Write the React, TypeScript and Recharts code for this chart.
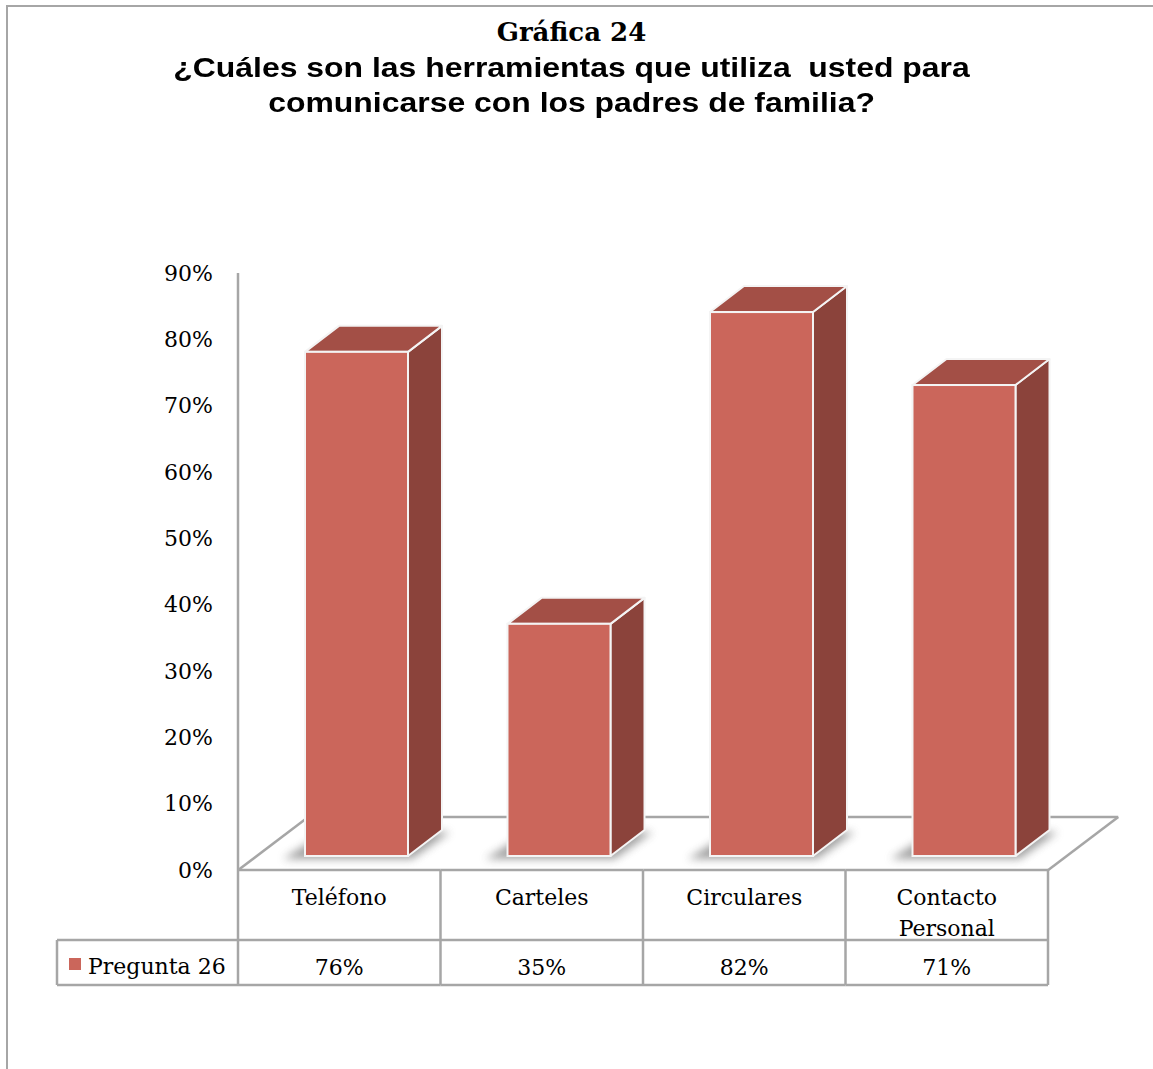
import React from "react";
import { BarChart, Bar, XAxis, YAxis } from "recharts";

// data
const categories = ["Teléfono", "Carteles", "Circulares", "Contacto Personal"];
const values = [0.76, 0.35, 0.82, 0.71];
const seriesName = "Pregunta 26";
const yTicks = [0, 0.1, 0.2, 0.3, 0.4, 0.5, 0.6, 0.7, 0.8, 0.9];

const W = 1153;
const H = 1069;
const MARGIN = { top: 273, right: 105, bottom: 84, left: 158 };
const Y_AXIS_W = 80;
const X_AXIS_H = 115;
const PLOT_W = W - MARGIN.left - MARGIN.right - Y_AXIS_W;
const BAND = PLOT_W / categories.length;

const FRONT = "#CB665B";
const TOP = "#A34F46";
const SIDE = "#8B433B";
const GRID = "#a6a6a6";
const SERIF = "'DejaVu Serif', 'Liberation Serif', serif";
const FS = 22;

// 3d offsets
const FACE_DX = 17;
const FACE_DY = -14;
const DEPTH_X = 34;
const DEPTH_Y = -26;
const FLOOR_DX = 70;
const FLOOR_DY = -53;

const pct = (v: number) => `${Math.round(v * 100)}%`;

const Bar3D = (props: any) => {
  const { x, y, width, height, index } = props;
  if (height == null || width == null) return null;
  const fx = x + FACE_DX;
  const fy = y + FACE_DY;
  const w = width;
  const h = height;
  const b = fy + h;
  const id = `bshadow-${index}`;
  return (
    <g>
      <defs>
        <filter id={id} x="-30%" y="-100%" width="160%" height="300%">
          <feGaussianBlur stdDeviation="4" />
        </filter>
      </defs>
      <polygon
        points={`${fx - 22},${b + 3} ${fx + w + 4},${b + 3} ${fx + w + DEPTH_X + 8},${b + DEPTH_Y + 2} ${fx + DEPTH_X - 10},${b + DEPTH_Y}`}
        fill="#6f6f6f"
        opacity={0.65}
        filter={`url(#${id})`}
      />
      <polygon
        points={`${fx + w},${fy} ${fx + w + DEPTH_X},${fy + DEPTH_Y} ${fx + w + DEPTH_X},${b + DEPTH_Y} ${fx + w},${b}`}
        fill={SIDE}
        stroke="#f4f4f4"
        strokeWidth={2}
        strokeLinejoin="round"
      />
      <polygon
        points={`${fx},${fy} ${fx + DEPTH_X},${fy + DEPTH_Y} ${fx + w + DEPTH_X},${fy + DEPTH_Y} ${fx + w},${fy}`}
        fill={TOP}
        stroke="#f4f4f4"
        strokeWidth={2}
        strokeLinejoin="round"
      />
      <rect x={fx} y={fy} width={w} height={h} fill={FRONT} stroke="#f4f4f4" strokeWidth={2} />
    </g>
  );
};

// floor piece under each category, drawn as the bar background
const FloorSegment = (props: any) => {
  const { x, y, width, height, index } = props;
  const cx = x + width / 2;
  const left = cx - BAND / 2;
  const right = cx + BAND / 2;
  const b = y + height;
  const last = index === categories.length - 1;
  return (
    <g>
      <polygon
        points={`${left},${b} ${right},${b} ${right + FLOOR_DX},${b + FLOOR_DY} ${left + FLOOR_DX},${b + FLOOR_DY}`}
        fill="#fff"
      />
      <line x1={left} y1={b} x2={right} y2={b} stroke={GRID} strokeWidth={2.5} />
      <line x1={left + FLOOR_DX} y1={b + FLOOR_DY} x2={right + FLOOR_DX} y2={b + FLOOR_DY} stroke={GRID} strokeWidth={2.5} />
      {index === 0 && <line x1={left} y1={b} x2={left + FLOOR_DX} y2={b + FLOOR_DY} stroke={GRID} strokeWidth={2.5} />}
      {last && <line x1={right} y1={b} x2={right + FLOOR_DX} y2={b + FLOOR_DY} stroke={GRID} strokeWidth={2.5} />}
    </g>
  );
};

const TableTick = (props: any) => {
  const { x, y, payload, index } = props;
  const i = payload?.index ?? index;
  const left = x - BAND / 2;
  const right = x + BAND / 2;
  const lines = String(payload.value).split(" ");
  const last = i === categories.length - 1;
  return (
    <g>
      <line x1={left} y1={y} x2={left} y2={y + 115} stroke={GRID} strokeWidth={2.5} />
      {last && <line x1={right} y1={y} x2={right} y2={y + 115} stroke={GRID} strokeWidth={2.5} />}
      <line x1={left} y1={y + 70} x2={right} y2={y + 70} stroke={GRID} strokeWidth={2.5} />
      <line x1={left} y1={y + 115} x2={right} y2={y + 115} stroke={GRID} strokeWidth={2.5} />
      {lines.map((t, k) => (
        <text key={k} x={x} y={y + 27 + k * 31} textAnchor="middle" dominantBaseline="central"
          fontFamily={SERIF} fontSize={FS} fill="#000">
          {t}
        </text>
      ))}
      <text x={x} y={y + 97} textAnchor="middle" dominantBaseline="central" fontFamily={SERIF} fontSize={FS} fill="#000">
        {pct(values[i])}
      </text>
      {i === 0 && (
        <g>
          <line x1={57} y1={y + 70} x2={left} y2={y + 70} stroke={GRID} strokeWidth={2.5} />
          <line x1={57} y1={y + 115} x2={left} y2={y + 115} stroke={GRID} strokeWidth={2.5} />
          <line x1={57} y1={y + 70} x2={57} y2={y + 115} stroke={GRID} strokeWidth={2.5} />
          <rect x={69} y={y + 88} width={12} height={12} fill={FRONT} />
          <text x={88} y={y + 96} dominantBaseline="central" fontFamily={SERIF} fontSize={FS} fill="#000">
            {seriesName}
          </text>
        </g>
      )}
    </g>
  );
};

export default function App() {
  const data = categories.map((c, i) => ({ name: c, value: values[i] }));
  return (
    <div style={{ position: "absolute", left: 0, top: 0, width: W, height: H, overflow: "hidden", background: "#fff" }}>
      <div style={{ position: "absolute", left: 6, top: 5, width: 1200, height: 1200, borderLeft: `2px solid ${GRID}`, borderTop: `2px solid ${GRID}` }} />
      <div style={{ position: "absolute", left: 0, top: 0 }}>
        <BarChart width={W} height={H} data={data} margin={MARGIN} barSize={103}>
          <XAxis dataKey="name" height={X_AXIS_H} axisLine={false} tickLine={false} tickSize={0} tickMargin={0}
            interval={0} tick={<TableTick />} />
          <YAxis width={Y_AXIS_W} domain={[0, 0.9]} ticks={yTicks} tickFormatter={pct} axisLine={{ stroke: GRID, strokeWidth: 2.5 }}
            tickLine={false} tickSize={0} tickMargin={25}
            tick={{ fontFamily: SERIF, fontSize: FS, fill: "#000" }} />
          <Bar dataKey="value" name={seriesName} fill={FRONT} background={<FloorSegment />} shape={<Bar3D />} isAnimationActive={false} />
        </BarChart>
      </div>
      <div style={{ position: "absolute", left: 0, top: 14, width: 1143, textAlign: "center" }}>
        <div style={{ fontFamily: SERIF, fontWeight: 700, fontSize: 26, lineHeight: "36px" }}>Gráfica 24</div>
        <div style={{ fontFamily: "'Liberation Sans', Arial, sans-serif", fontWeight: 700, fontSize: 28, lineHeight: "35px",
          transform: "scaleX(1.14)", transformOrigin: "571px 0" }}>
          ¿Cuáles son las herramientas que utiliza&nbsp; usted para
          <br />
          comunicarse con los padres de familia?
        </div>
      </div>
    </div>
  );
}
